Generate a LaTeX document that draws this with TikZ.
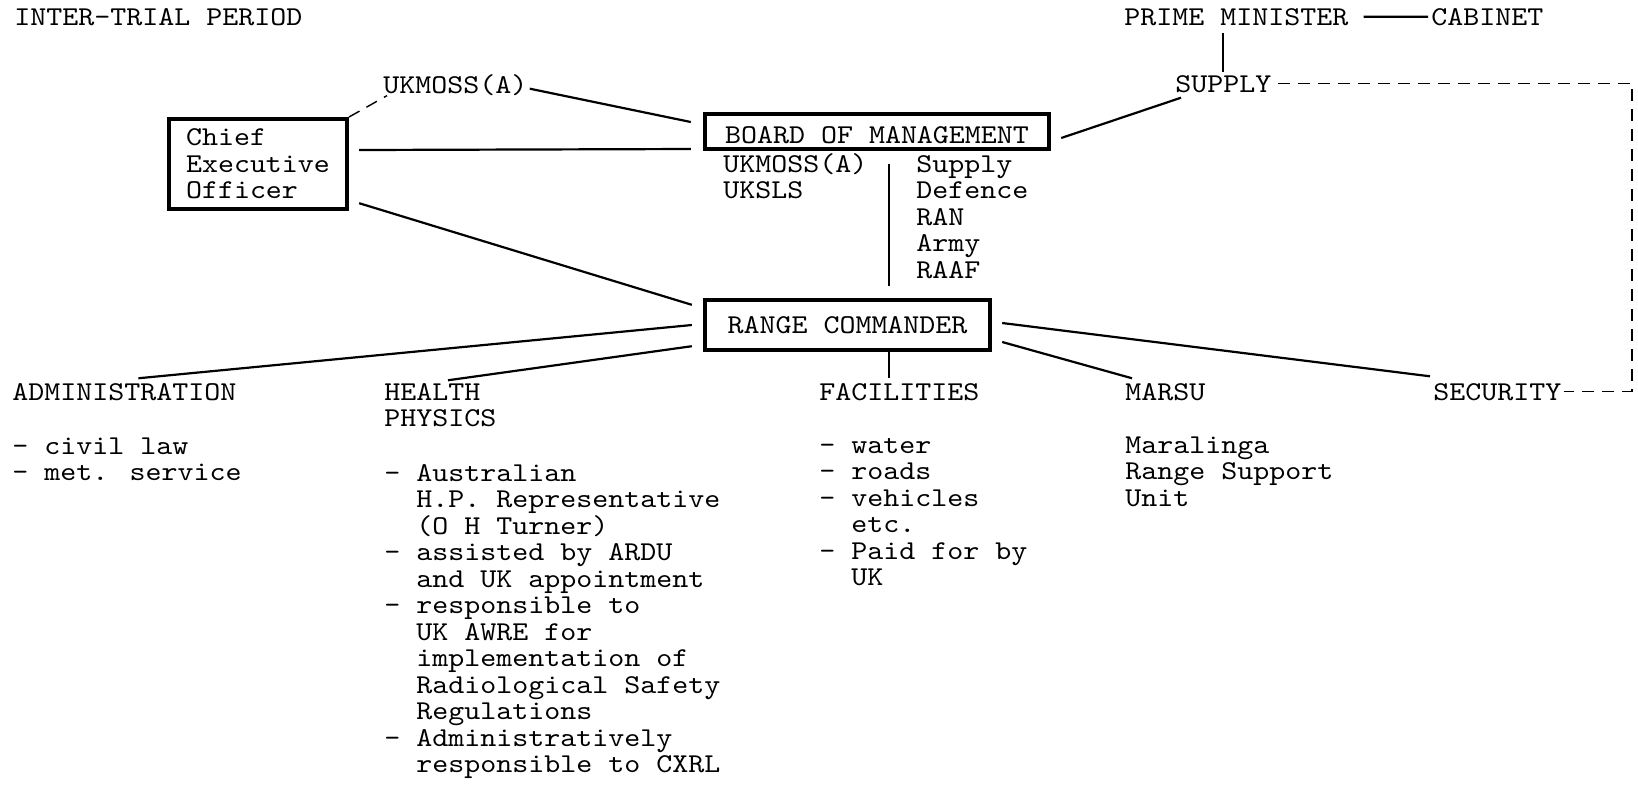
\documentclass[tikz,border=0pt]{standalone}
\usepackage{fontspec}
\usepackage{tikz}
\newfontfamily\typer{lmmono10-regular}[Extension = .otf, FakeStretch = 1.12]
\newcommand{\contline}{\phantom{-\ }}

\begin{document}
\begin{tikzpicture}[
            x = 0.5pt, y = -0.5pt, % one unit per pixel, y downwards
            font = {\typer\fontsize{13.6pt}{13.25pt}\selectfont},
            heading/.style = {inner sep = 0pt, anchor = base west},
            items/.style = {inner sep = 0pt, anchor = base west, align = left}, % base = last line
            link/.style = {line width = 1.1pt},
            dashlink/.style = {line width = 0.7pt, dash pattern = on 6pt off 4pt}
        ]

        \tikzstyle{board}=[
            draw = black,
            line width = 2.2pt,
            inner sep = 0pt,
            align = left
        ]

        \path[fill = white, use as bounding box] (0,0) rectangle (1638,784);

        % top row
        \node[heading] (period) at (14,25) {INTER-TRIAL PERIOD};
        \node[heading] (pm) at (1124,25) {PRIME MINISTER};
        \node[heading] (cabinet) at (1431,25) {CABINET};
        \node[heading] (supply) at (1175,92) {SUPPLY};
        \node[heading] (ukmoss) at (383,93) {UKMOSS(A)};

        % the three boxes
        \node[board, minimum width = 88.8pt, minimum height = 44.8pt] (ceo) at (258,164) {Chief\\Executive\\Officer};
        \node[board, minimum width = 171.8pt, minimum height = 17.3pt, text height = 11.5pt, text depth = 0pt] (bom) at (877,131.5) {BOARD OF MANAGEMENT};
        \node[board, minimum width = 142.3pt, minimum height = 24.8pt] (rc) at (847.5,325) {RANGE COMMANDER};

        \node[items] (bomleft) at (723,198.5) {UKMOSS(A)\\UKSLS};
        \node[items] (bomright) at (916,278) {Supply\\Defence\\RAN\\Army\\RAAF};

        % branches under the range commander
        \node[heading] (admin) at (12,400) {ADMINISTRATION};
        \node[items] (adminlist) at (12,480.5) {- civil law\\- met. service};
        \node[items] (health) at (384,426.5) {HEALTH\\PHYSICS};
        \node[items] (healthlist) at (384,772.5) {- Australian\\\contline H.P. Representative\\\contline (O H Turner)\\- assisted by ARDU\\\contline and UK appointment\\- responsible to\\\contline UK AWRE for\\\contline implementation of\\\contline Radiological Safety\\\contline Regulations\\- Administratively\\\contline responsible to CXRL};
        \node[heading] (facilities) at (819,400) {FACILITIES};
        \node[items] (facilitylist) at (819,585.5) {- water\\- roads\\- vehicles\\\contline etc.\\- Paid for by\\\contline UK};
        \node[heading] (marsu) at (1125,400) {MARSU};
        \node[items] (marsulist) at (1125,506) {Maralinga\\Range Support\\Unit};
        \node[heading] (security) at (1433,400) {SECURITY};

        \coordinate (spine) at (889,0);
        \coordinate (edge) at (1632,0);

        \draw[link, shorten <= 7.5pt, shorten >= 1.5pt] (pm.east) -- (cabinet.west);
        \draw[link, shorten <= 3.5pt, shorten >= 1.2pt] (supply.north |- pm.south) -- (supply.north);
        \draw[dashlink] ([xshift = 3pt]supply.east) -| (edge |- security.east) -- ([xshift = 1pt]security.east);
        \draw[dashlink] (ceo.north east) -- ([xshift = 2pt]ukmoss.south west);
        \draw[link] ([xshift = 1pt, yshift = -2pt]ukmoss.east) -- ([xshift = -6.1pt, yshift = 4.75pt]bom.west);
        \draw[link] ([xshift = 5.1pt, yshift = 7pt]ceo.east) -- ([xshift = -6.1pt, yshift = -8.75pt]bom.west);
        \draw[link] ([xshift = 5.1pt, yshift = 3.9pt]ceo.south east) -- ([xshift = -5.6pt, yshift = -3.4pt]rc.north west);
        \draw[link] ([xshift = 5.1pt, yshift = -3.25pt]bom.east) -- ([xshift = 3pt, yshift = -2.5pt]supply.south west);
        \draw[link, shorten <= 6.5pt, shorten >= 6pt] (bom.south -| spine) -- (rc.north -| spine);
        \draw[link, shorten >= 2.2pt] (rc.south -| spine) -- (facilities.north -| spine);
        \draw[link] ([xshift = -5.6pt]rc.west) -- ([xshift = 7pt, yshift = 2.2pt]admin.north);
        \draw[link] ([xshift = -5.6pt, yshift = 2.9pt]rc.south west) -- ([xshift = 32pt, yshift = 1.2pt]health.north west);
        \draw[link] ([xshift = 5.1pt, yshift = 5pt]rc.south east) -- ([xshift = 3.5pt, yshift = 2.2pt]marsu.north west);
        \draw[link] ([xshift = 5.1pt, yshift = 1pt]rc.east) -- ([xshift = -1.5pt, yshift = 3.2pt]security.north west);
    \end{tikzpicture}
\end{document}
